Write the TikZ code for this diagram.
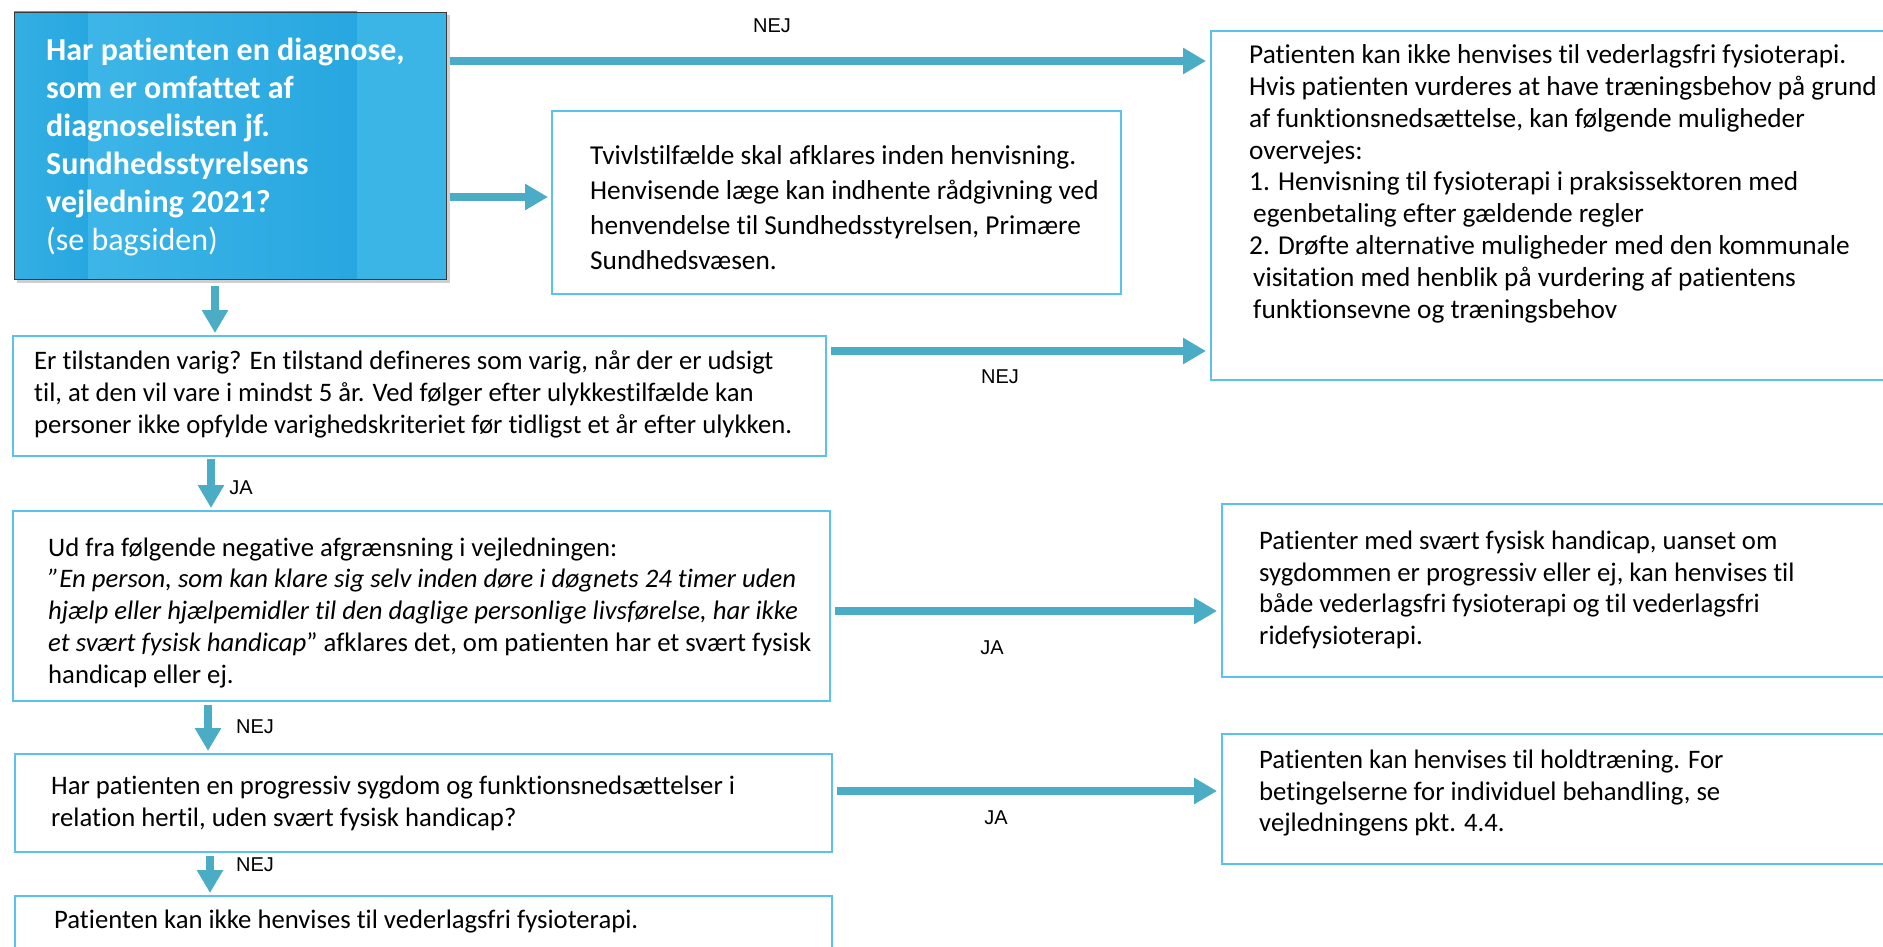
\documentclass[tikz,border=0pt]{standalone}
\usepackage{fontspec}
\setmainfont{Carlito}[Ligatures={NoCommon}]
\newfontfamily\arialf{Liberation Sans}
\usetikzlibrary{arrows.meta,calc}
\definecolor{arrowc}{HTML}{4BACC6}
\definecolor{boxc}{HTML}{5BC2EC}
\definecolor{qdark}{HTML}{27A7E0}
\definecolor{qlight}{HTML}{3DB5E7}
\definecolor{qmid}{HTML}{34AFE4}
\definecolor{qborder}{HTML}{3A3A3A}
\definecolor{qshadow}{HTML}{CFCFCF}
\begin{document}
\begin{tikzpicture}[x=1pt,y=-1pt,
  boxn/.style={draw=boxc, line width=1.6pt, fill=white, rectangle, inner sep=0pt, anchor=north west},
  txt/.style={anchor=north west, inner sep=0pt, align=left, font=\fontsize{26.7}{31.8}\selectfont},
  qtxt/.style={anchor=north west, inner sep=0pt, align=left, text=white, font=\fontsize{32}{38}\selectfont},
  arr/.style={draw=arrowc, line width=7.5pt, -{Triangle[length=23pt,width=25pt]}},
  lbl/.style={font=\arialf\fontsize{20}{24}\selectfont, inner sep=0pt}]
\path[use as bounding box, clip] (0,0) rectangle (1883,947);

% main question box
\fill[qshadow] (17,15) rectangle (450,283);
\shade[left color=qmid, right color=qdark] (14,12) rectangle (88,279);
\shade[left color=qlight, right color=qdark] (88,12) rectangle (357,279);
\fill[qlight!90!qdark] (357,12) rectangle (446,279);
\node[draw=qborder, line width=1.2pt, rectangle, inner sep=0pt, anchor=north west,
  minimum width=432pt, minimum height=267pt] (q1) at (14,12) {};
\node[qtxt] (q1t) at (46,38) {\bfseries Har patienten en diagnose,\\ \bfseries som er omfattet af\\ \bfseries diagnoselisten jf.\\ \bfseries Sundhedsstyrelsens\\ \bfseries vejledning 2021?\\ (se bagsiden)};

% boxes
\node[boxn, minimum width=569pt, minimum height=183pt] (tv) at (551,110) {};
\node[boxn, minimum width=700pt, minimum height=349pt] (r1) at (1210,30) {};
\node[boxn, minimum width=813pt, minimum height=120pt] (b2) at (12,335) {};
\node[boxn, minimum width=817pt, minimum height=190pt] (b3) at (12,510) {};
\node[boxn, minimum width=700pt, minimum height=173pt] (r2) at (1221,503) {};
\node[boxn, minimum width=817pt, minimum height=98pt] (b4) at (14,753) {};
\node[boxn, minimum width=700pt, minimum height=130pt] (r3) at (1221,733) {};
\node[boxn, minimum width=817pt, minimum height=90pt] (b5) at (14,895) {};

% texts
\node[txt, font=\fontsize{27.3}{34.8}\selectfont] (tvt) at (590,145.5) {Tvivlstilfælde skal afklares inden henvisning.\\ Henvisende læge kan indhente rådgivning ved\\ henvendelse til Sundhedsstyrelsen, Primære\\ Sundhedsvæsen.};
\node[txt, font=\fontsize{27.3}{31.8}\selectfont] (r1t) at (1249,44.5) {Patienten kan ikke henvises til vederlagsfri fysioterapi.\\ Hvis patienten vurderes at have træningsbehov på grund\\ af funktionsnedsættelse, kan følgende muligheder\\ overvejes:\\ 1. Henvisning til fysioterapi i praksissektoren med\\ \hspace*{4pt}egenbetaling efter gældende regler\\[0.5pt] 2. Drøfte alternative muligheder med den kommunale\\ \hspace*{4pt}visitation med henblik på vurdering af patientens\\ \hspace*{4pt}funktionsevne og træningsbehov};
\node[txt, font=\fontsize{26.7}{32.3}\selectfont] (b2t) at (34,350) {Er tilstanden varig? En tilstand defineres som varig, når der er udsigt\\ til, at den vil vare i mindst 5 år. Ved følger efter ulykkestilfælde kan\\ personer ikke opfylde varighedskriteriet før tidligst et år efter ulykken.};
\node[txt, font=\fontsize{26.7}{31.7}\selectfont] (b3t) at (48,537.5) {Ud fra følgende negative afgrænsning i vejledningen:\\ \itshape ”En person, som kan klare sig selv inden døre i døgnets 24 timer uden\\ \itshape hjælp eller hjælpemidler til den daglige personlige livsførelse, har ikke\\ \textit{et svært fysisk handicap}” afklares det, om patienten har et svært fysisk\\ handicap eller ej.};
\node[txt, font=\fontsize{26.7}{32}\selectfont] (b4t) at (51,775.5) {Har patienten en progressiv sygdom og funktionsnedsættelser i\\ relation hertil, uden svært fysisk handicap?};
\node[txt] (b5t) at (54,909.5) {Patienten kan ikke henvises til vederlagsfri fysioterapi.};
\node[txt] (r2t) at (1259,530.5) {Patienter med svært fysisk handicap, uanset om\\ sygdommen er progressiv eller ej, kan henvises til\\ både vederlagsfri fysioterapi og til vederlagsfri\\ ridefysioterapi.};
\node[txt] (r3t) at (1259,749.5) {Patienten kan henvises til holdtræning. For\\ betingelserne for individuel behandling, se\\ vejledningens pkt. 4.4.};

% connectors
\draw[arr] ($(q1.north east)+(3,49)$) -- ($(r1.north west)+(-4,31)$);
\draw[arr] ($(q1.north east)+(3,185)$) -- ($(tv.north west)+(-3,87)$);
\draw[arr] ($(q1.south west)+(201,6)$) -- ($(b2.north west)+(203,-2)$);
\draw[arr] ($(b2.north east)+(4,16)$) -- ($(r1.north west)+(-4,321)$);
\draw[arr] ($(b2.south west)+(199,2)$) -- ($(b3.north west)+(199,-2)$);
\draw[arr] ($(b3.north east)+(4,101)$) -- ($(r2.north west)+(-4,108)$);
\draw[arr] ($(b3.south west)+(196,3)$) -- ($(b4.north west)+(194,-2)$);
\draw[arr] ($(b4.north east)+(4,38)$) -- ($(r3.north west)+(-4,58)$);
\draw[arr] ($(b4.south west)+(196,3)$) -- ($(b5.north west)+(196,-2)$);

% labels
\node[lbl] (l1) at (772,26) {NEJ};
\node[lbl] (l2) at (1000,377) {NEJ};
\node[lbl] (l3) at (241,488) {JA};
\node[lbl] (l4) at (992,648) {JA};
\node[lbl] (l5) at (255,727) {NEJ};
\node[lbl] (l6) at (996,818) {JA};
\node[lbl] (l7) at (255,865) {NEJ};
\end{tikzpicture}
\end{document}
